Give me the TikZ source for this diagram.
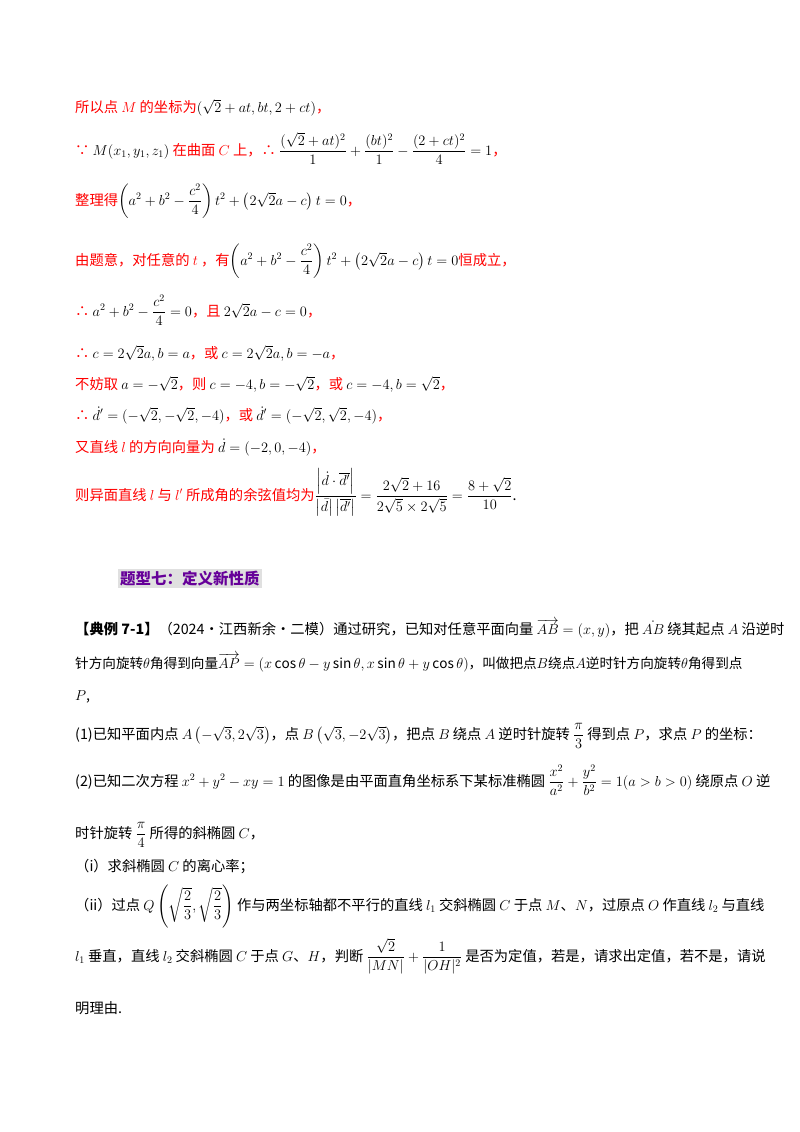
\documentclass[tikz,border=0pt]{standalone}
\usepackage{amsmath}
\usepackage{fontspec}
\setmainfont{Noto Sans CJK SC}
\begin{document}
\begin{tikzpicture}[x=1pt,y=-1pt,
  ln/.style={anchor=base west,inner sep=0pt,font=\fontsize{14.3}{16}\selectfont},
  rd/.style={ln,text=red}]
\useasboundingbox (0,0) rectangle (800,1132);
\node[rd] (l1) at (75,112) {所以点 $M$ 的坐标为\textcolor{black}{$(\sqrt2+at,bt,2+ct)$}，};
\node[rd] (l2) at (75,155) {∵ \textcolor{black}{$M(x_1,y_1,z_1)$} 在曲面 $C$ 上，∴ \textcolor{black}{$\dfrac{(\sqrt2+at)^2}{1}+\dfrac{(bt)^2}{1}-\dfrac{(2+ct)^2}{4}=1$}，};
\node[rd] (l3) at (75,205) {整理得\textcolor{black}{$\left(a^2+b^2-\dfrac{c^2}{4}\right)t^2+\left(2\sqrt2a-c\right)t=0$}，};
\node[rd] (l4) at (75,265) {由题意，对任意的 $t$ ，有\textcolor{black}{$\left(a^2+b^2-\dfrac{c^2}{4}\right)t^2+\left(2\sqrt2a-c\right)t=0$}恒成立，};
\node[rd] (l5) at (75,316) {∴ \textcolor{black}{$a^2+b^2-\dfrac{c^2}{4}=0$}，且 \textcolor{black}{$2\sqrt2a-c=0$}，};
\node[rd] (l6) at (75,358) {∴ \textcolor{black}{$c=2\sqrt2a,b=a$}，或 \textcolor{black}{$c=2\sqrt2a,b=-a$}，};
\node[rd] (l7) at (75,389) {不妨取 \textcolor{black}{$a=-\sqrt2$}，则 \textcolor{black}{$c=-4,b=-\sqrt2$}，或 \textcolor{black}{$c=-4,b=\sqrt2$}，};
\node[rd] (l8) at (75,420) {∴ \textcolor{black}{$\dot d'=(-\sqrt2,-\sqrt2,-4)$}，或 \textcolor{black}{$\dot d'=(-\sqrt2,\sqrt2,-4)$}，};
\node[rd] (l9) at (75,452) {又直线 $l$ 的方向向量为 \textcolor{black}{$\dot d=(-2,0,-4)$}，};
\node[rd] (l10) at (75,500) {则异面直线 $l$ 与 $l'$ 所成角的余弦值均为\textcolor{black}{$\dfrac{\left|\dot d\cdot\overline{d'}\right|}{\left|\bar d\right|\left|\overline{d'}\right|}=\dfrac{2\sqrt2+16}{2\sqrt5\times2\sqrt5}=\dfrac{8+\sqrt2}{10}$.}};
\node[ln,fill=black!12,inner sep=2pt,text=violet!80!blue,font=\fontsize{15.5}{17}\selectfont\bfseries] (h) at (118,584) {题型七：定义新性质};
\node[ln] (e1) at (75,634) {\textbf{【典例 7-1】}（2024·江西新余·二模）通过研究，已知对任意平面向量 $\overrightarrow{AB}=(x,y)$，把 $\dot{AB}$ 绕其起点 $A$ 沿逆时};
\node[ln] (e2) at (75,668) {\fontsize{13.6}{16}\selectfont 针方向旋转$\theta$角得到向量$\overrightarrow{AP}=(x\cos\theta-y\sin\theta,x\sin\theta+y\cos\theta)$，叫做把点$B$绕点$A$逆时针方向旋转$\theta$角得到点};
\node[ln] (e3) at (75,700) {$P$,};
\node[ln] (e4) at (75,739) {(1)已知平面内点 $A\left(-\sqrt3,2\sqrt3\right)$，点 $B\left(\sqrt3,-2\sqrt3\right)$，把点 $B$ 绕点 $A$ 逆时针旋转 $\dfrac{\pi}{3}$ 得到点 $P$，求点 $P$ 的坐标：};
\node[ln] (e5) at (75,786) {(2)已知二次方程 $x^2+y^2-xy=1$ 的图像是由平面直角坐标系下某标准椭圆 $\dfrac{x^2}{a^2}+\dfrac{y^2}{b^2}=1(a>b>0)$ 绕原点 $O$ 逆};
\node[ln] (e6) at (75,838) {时针旋转 $\dfrac{\pi}{4}$ 所得的斜椭圆 $C$，};
\node[ln] (e7) at (75,871) {（i）求斜椭圆 $C$ 的离心率；};
\node[ln] (e8) at (75,910) {（ii）过点 $Q\left(\sqrt{\dfrac23},\sqrt{\dfrac23}\right)$ 作与两坐标轴都不平行的直线 $l_1$ 交斜椭圆 $C$ 于点 $M$、$N$，过原点 $O$ 作直线 $l_2$ 与直线};
\node[ln] (e9) at (75,961) {$l_1$ 垂直，直线 $l_2$ 交斜椭圆 $C$ 于点 $G$、$H$，判断 $\dfrac{\sqrt2}{|MN|}+\dfrac{1}{|OH|^2}$ 是否为定值，若是，请求出定值，若不是，请说};
\node[ln] (e10) at (75,1013) {明理由.};
\end{tikzpicture}
\end{document}
